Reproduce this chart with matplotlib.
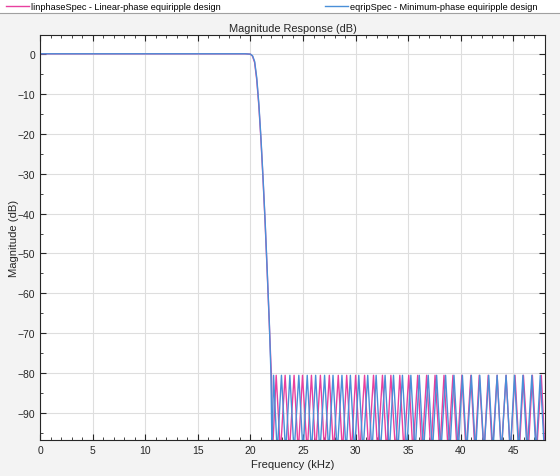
import numpy as np
import matplotlib.pyplot as plt
from matplotlib.lines import Line2D
from matplotlib.ticker import MultipleLocator

plt.rcParams['font.family'] = ['Liberation Sans', 'DejaVu Sans']

# passband + transition band (kHz, dB)
lin_edge_f = [0, 5, 10, 15, 19.5, 20.0, 20.2, 20.4, 20.6, 20.8, 21.0, 21.2, 21.4, 21.6, 21.8, 22.0]
lin_edge_db = [0, 0, 0, 0, 0, -0.1, -0.6, -2.2, -6.5, -13, -21.5, -31.5, -42.5, -55, -68, -81]
min_edge_f = [0, 5, 10, 15, 19.5, 20.0, 20.2, 20.4, 20.6, 20.8, 21.0, 21.2, 21.4, 21.6, 21.8, 21.95]
min_edge_db = [0, 0, 0, 0, 0, -0.1, -0.5, -1.9, -6.0, -12.5, -21, -31, -42, -54.5, -67.5, -80]

# stopband ripple: peak and null frequencies (kHz)
lin_peaks = [22.45, 23.3, 24.15, 24.95, 25.8, 26.65, 27.5, 28.35, 29.15, 30.0, 30.85, 31.7,
             32.55, 33.35, 34.2, 35.05, 35.9, 36.75, 37.55, 38.4, 39.25, 40.1, 40.95, 41.75,
             42.6, 43.45, 44.3, 45.15, 45.95, 46.8, 47.65]
lin_nulls = [22.1, 22.85, 23.7, 24.55, 25.4, 26.2, 27.05, 27.9, 28.75, 29.6, 30.4, 31.25,
             32.1, 32.95, 33.8, 34.6, 35.45, 36.3, 37.15, 38.0, 38.8, 39.65, 40.5, 41.35,
             42.2, 43.0, 43.85, 44.7, 45.55, 46.4, 47.2, 48.0]
min_peaks = [22.2, 22.95, 23.75, 24.6, 25.4, 26.2, 27.05, 27.85, 28.7, 29.5, 30.3, 31.15,
             31.95, 32.8, 33.6, 34.45, 35.25, 36.05, 36.9, 37.7, 38.55, 39.35, 40.15, 41.0,
             41.8, 42.65, 43.45, 44.3, 45.1, 45.9, 46.75, 47.55]
min_nulls = [22.05, 22.55, 23.35, 24.15, 25.0, 25.8, 26.6, 27.45, 28.25, 29.1, 29.9, 30.7,
             31.55, 32.35, 33.2, 34.0, 34.85, 35.65, 36.45, 37.3, 38.1, 38.95, 39.75, 40.55,
             41.4, 42.2, 43.05, 43.85, 44.7, 45.5, 46.3, 47.15, 47.95]
peak_db = -80.5
null_db = -100

pink = '#E8409F'
blue = '#4A8FD8'


def stopband(peaks, nulls):
    f = np.array(peaks + nulls)
    db = np.array([peak_db] * len(peaks) + [null_db] * len(nulls))
    order = np.argsort(f)
    return f[order], db[order]


lf, ldb = stopband(lin_peaks, lin_nulls)
mf, mdb = stopband(min_peaks, min_nulls)

fig = plt.figure(figsize=(5.6, 4.77), dpi=100, facecolor='#f3f3f3')
ax = fig.add_axes([40 / 560, 1 - 441 / 477, 505 / 560, 405 / 477])

ax.plot(np.r_[lin_edge_f, lf], np.r_[lin_edge_db, ldb], color=pink, lw=1.0,
        label='linphaseSpec - Linear-phase equiripple design')
ax.plot(np.r_[min_edge_f, mf], np.r_[min_edge_db, mdb], color=blue, lw=1.0,
        label='eqripSpec - Minimum-phase equiripple design')

ax.set_xlim(0, 48)
ax.set_ylim(-96.7, 4.7)
ax.xaxis.set_major_locator(MultipleLocator(5))
ax.xaxis.set_minor_locator(MultipleLocator(1))
ax.yaxis.set_major_locator(MultipleLocator(10))
ax.yaxis.set_minor_locator(MultipleLocator(5))
ax.tick_params(which='both', direction='in', top=True, right=True, labelsize=7.5,
               color='#262626', labelcolor='#262626')
ax.tick_params(which='major', length=4)
ax.tick_params(which='minor', length=2)
ax.grid(True, which='major', color='#dedede', lw=0.8)
ax.set_axisbelow(True)
for s in ax.spines.values():
    s.set_color('#262626')
    s.set_linewidth(0.8)

ax.set_title('Magnitude Response (dB)', fontsize=7.9, color='#262626', pad=3)
ax.set_xlabel('Frequency (kHz)', fontsize=8.1, color='#262626', labelpad=3)
ax.set_ylabel('Magnitude (dB)', fontsize=8.1, color='#262626', labelpad=-1)

fig.patches.append(plt.Rectangle((0, 1 - 14 / 477), 1, 14 / 477, transform=fig.transFigure,
                                 facecolor='white', edgecolor='none', zorder=0))
fig.add_artist(Line2D([0, 1], [1 - 14 / 477] * 2, color='#a0a0a0', lw=0.8))
fig.legend(loc='upper left', bbox_to_anchor=(-0.004, 1.01), ncol=2, frameon=False,
           fontsize=6.6, handlelength=2.5, handletextpad=0.2, columnspacing=11.4)

fig.savefig('out.png', dpi=100, facecolor=fig.get_facecolor())
